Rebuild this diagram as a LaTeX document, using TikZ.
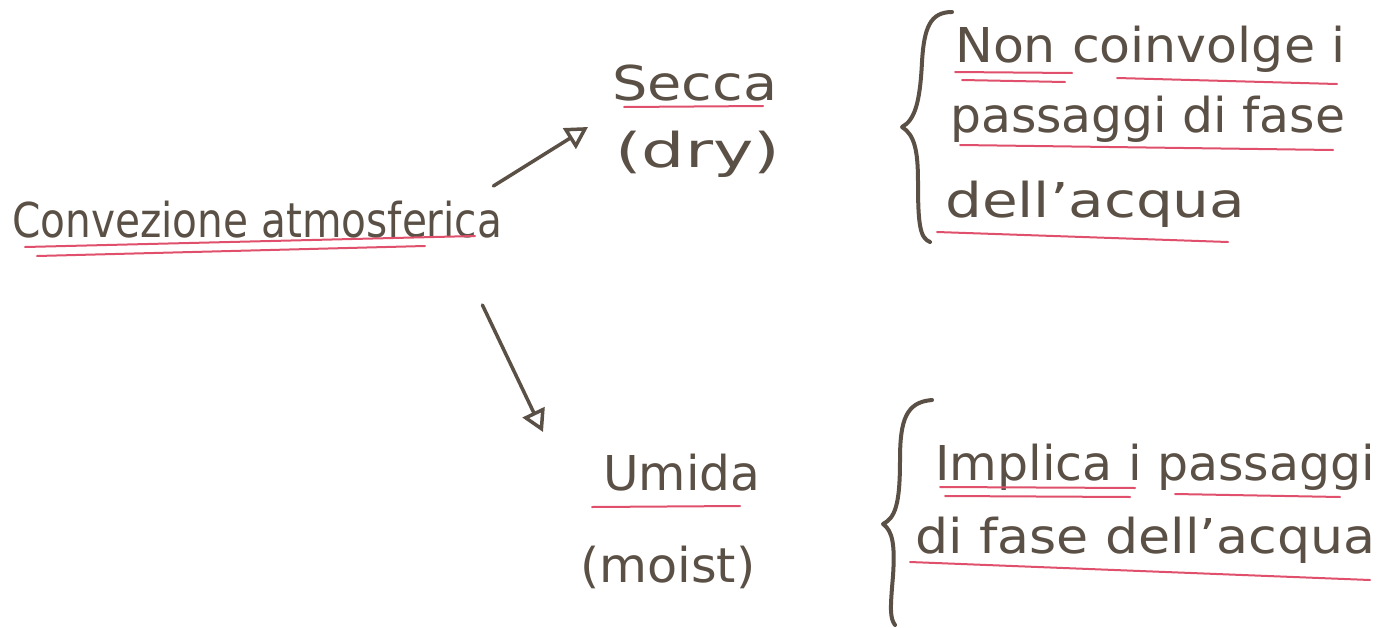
\documentclass[tikz,border=0pt]{standalone}
\usepackage{fontspec}
\usepackage{graphicx}
\setmainfont{DejaVu Sans}
\usetikzlibrary{arrows.meta,calc}

\definecolor{ink}{HTML}{5B5045}
\definecolor{redpen}{HTML}{E0506C}

% stretch a line of handwriting to a given width, keeping its height
\newcommand\hwline[2]{\resizebox{#1}{\height}{#2}}

\tikzset{
  hand/.style={inner sep=0pt, anchor=base west, text=ink, font=\fontsize{48}{54}\selectfont},
  arr/.style={draw=ink, line width=3.5pt, line cap=round,
    -{Triangle[open,length=22pt,width=24pt,line width=3.5pt]}},
  brace/.style={draw=ink, line width=4pt, line cap=round, line join=round},
  uline/.style={draw=redpen, line width=2pt, line cap=round}
}

\begin{document}
\begin{tikzpicture}[x=1pt,y=-1pt]
  \useasboundingbox[fill=white] (0,0) rectangle (1382,627);

  % main term and its two branches
  \node[hand] (conv)  at (12,237)  {\hwline{490pt}{Convezione atmosferica}};
  \node[hand] (secca) at (612,100) {\hwline{165pt}{Secca}};
  \node[hand] (dry)   at (615,167) {\hwline{165pt}{(dry)}};
  \node[hand] (umida) at (603,490) {\hwline{157pt}{Umida}};
  \node[hand] (moist) at (580,582) {\hwline{175pt}{(moist)}};

  % descriptions
  \node[hand] (d1a) at (955,62)  {\hwline{390pt}{Non coinvolge i}};
  \node[hand] (d1b) at (950,132) {\hwline{395pt}{passaggi di fase}};
  \node[hand] (d1c) at (945,217) {\hwline{300pt}{dell'acqua}};
  \node[hand] (d2a) at (935,480) {\hwline{440pt}{Implica i passaggi}};
  \node[hand] (d2b) at (915,553) {\hwline{460pt}{di fase dell'acqua}};

  % arrows to the two kinds of convection
  \draw[arr] ($(conv.base east)+(-9,-51)$) -- ($(dry.base west)+(-27,-40)$);
  \draw[arr] ($(conv.base east)+(-20,68)$) -- ($(umida.base west)+(-60,-58)$);

  % braces
  \draw[brace] (952,12) .. controls (930,12) and (924,28) .. (922,62)
               .. controls (920,102) and (915,120) .. (902,127)
               .. controls (915,135) and (918,152) .. (918,182)
               .. controls (918,225) and (920,238) .. (930,242);
  \draw[brace] (932,400) .. controls (906,402) and (900,420) .. (900,460)
               .. controls (900,505) and (895,518) .. (883,524)
               .. controls (893,531) and (895,546) .. (893,576)
               .. controls (890,610) and (890,618) .. (895,625);

  % red underlining
  \draw[uline] (25,247) -- (475,236);
  \draw[uline] (37,256) -- (425,246);
  \draw[uline] (624,107) -- (763,106);
  \draw[uline] (592,507) -- (740,506);
  \draw[uline] (955,72) -- (1072,73);
  \draw[uline] (962,80) -- (1065,82);
  \draw[uline] (1117,78) -- (1337,84);
  \draw[uline] (960,145) -- (1333,150);
  \draw[uline] (937,232) -- (1228,242);
  \draw[uline] (940,487) -- (1135,488);
  \draw[uline] (945,496) -- (1130,497);
  \draw[uline] (1175,494) -- (1340,497);
  \draw[uline] (910,562) -- (1370,580);
\end{tikzpicture}
\end{document}
